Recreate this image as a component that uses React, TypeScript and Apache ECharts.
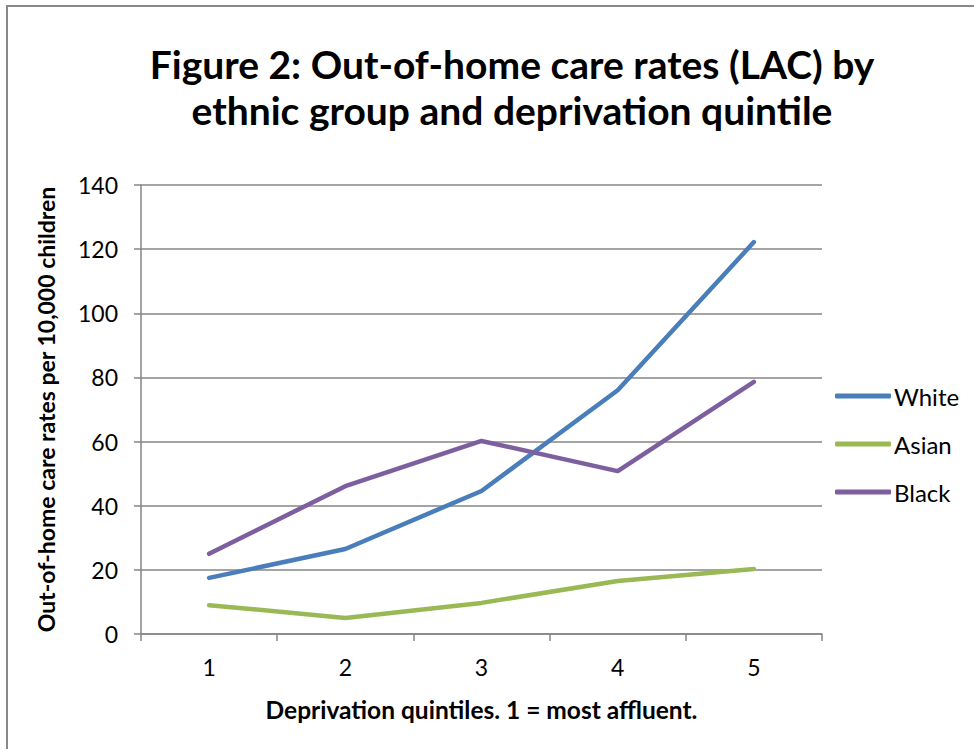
import React, { useEffect, useRef } from "react";
import * as echarts from "echarts";

const categories = ["1", "2", "3", "4", "5"];
const seriesNames = ["White", "Asian", "Black"];
const whiteValues = [17.5, 26.5, 44.6, 76.0, 122.2];
const asianValues = [9.0, 5.0, 9.7, 16.5, 20.3];
const blackValues = [25.0, 46.1, 60.2, 50.8, 78.6];
const yTicks = { min: 0, max: 140, interval: 20 };

const colors = ["#4a7ebb", "#98b954", "#7d5fa0"];
const FONT = "Lato, 'Open Sans', sans-serif";

export default function App() {
  const ref = useRef<HTMLDivElement>(null);
  useEffect(() => {
    if (!ref.current) return;
    const chart = echarts.init(ref.current, null, { renderer: "svg" });
    const data = [whiteValues, asianValues, blackValues];
    chart.setOption({
      animation: false,
      backgroundColor: "#ffffff",
      textStyle: { fontFamily: FONT },
      graphic: [
        {
          type: "rect",
          shape: { x: 7, y: 6, width: 1000, height: 800 },
          style: { fill: "none", stroke: "#898989", lineWidth: 2 },
          silent: true,
        },
        {
          type: "text",
          x: 512,
          y: 64,
          style: {
            text: "Figure 2: Out-of-home care rates (LAC) by",
            font: `bold 39px ${FONT}`,
            fill: "#000",
            align: "center",
            verticalAlign: "middle",
          },
        },
        {
          type: "text",
          x: 512,
          y: 110,
          style: {
            text: "ethnic group and deprivation quintile",
            font: `bold 39px ${FONT}`,
            fill: "#000",
            align: "center",
            verticalAlign: "middle",
          },
        },
      ],
      grid: { left: 141, right: 152, top: 185, bottom: 115, containLabel: false },
      legend: {
        orient: "vertical",
        left: 830,
        top: 379,
        itemGap: 24,
        itemWidth: 56,
        itemHeight: 5,
        icon: "roundRect",
        data: seriesNames,
        textStyle: { fontSize: 24, color: "#000", fontFamily: FONT, padding: [0, 0, 0, -2] },
      },
      xAxis: {
        type: "category",
        data: categories,
        boundaryGap: true,
        name: "Deprivation quintiles. 1 = most affluent.",
        nameLocation: "middle",
        nameGap: 63,
        nameTextStyle: { fontSize: 24.5, fontWeight: "bold", color: "#000", fontFamily: FONT },
        axisLine: { show: true, lineStyle: { color: "#868686", width: 1.5 } },
        axisTick: { show: true, length: 7, alignWithLabel: false, lineStyle: { color: "#868686", width: 1.5 } },
        axisLabel: { fontSize: 23, color: "#000", margin: 21, fontFamily: FONT },
        splitLine: { show: false },
      },
      yAxis: {
        type: "value",
        min: yTicks.min,
        max: yTicks.max,
        interval: yTicks.interval,
        name: "Out-of-home care rates per 10,000 children",
        nameLocation: "middle",
        nameGap: 84,
        nameTextStyle: { fontSize: 23, fontWeight: "bold", color: "#000", fontFamily: FONT },
        axisLine: { show: true, lineStyle: { color: "#868686", width: 1.5 } },
        axisTick: { show: true, length: 7, lineStyle: { color: "#868686", width: 1.5 } },
        axisLabel: { fontSize: 23, color: "#000", margin: 23, fontFamily: FONT },
        splitLine: { show: true, lineStyle: { color: "#868686", width: 1.5 } },
      },
      series: seriesNames.map((name, i) => ({
        name,
        type: "line",
        data: data[i],
        symbol: "none",
        color: colors[i],
        lineStyle: { width: 4.5, color: colors[i], cap: "round", join: "round" },
      })),
    });
    return () => chart.dispose();
  }, []);
  return (
    <div
      ref={ref}
      style={{ position: "absolute", left: 0, top: 0, width: 974, height: 749 }}
    />
  );
}
